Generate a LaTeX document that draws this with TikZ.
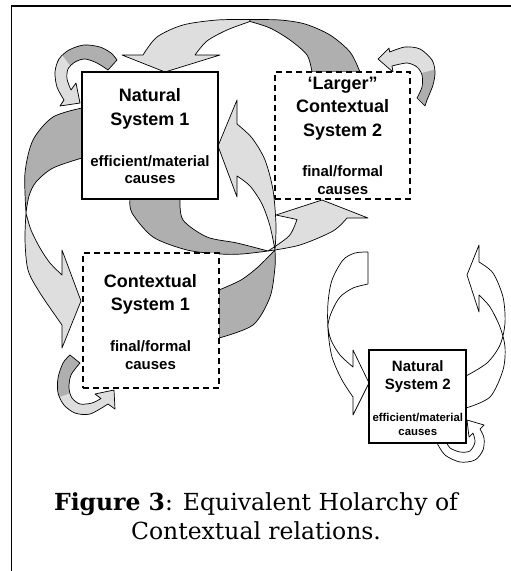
\documentclass[tikz,border=0pt]{standalone}
\usepackage{fontspec}
\newfontfamily\boxfont{Liberation Sans}
\newfontfamily\capfont{DejaVu Serif}
\definecolor{lightg}{RGB}{222,222,222}
\definecolor{darkg}{RGB}{175,175,175}
\tikzset{
  arrl/.style={fill=lightg, draw=black, line width=0.7pt, line join=round},
  arrd/.style={fill=darkg, draw=black, line width=0.7pt, line join=round},
  arrw/.style={fill=white, draw=black, line width=0.7pt, line join=round},
  outl/.style={draw=black, line width=0.7pt, line join=round},
  solidbox/.style={draw=black, line width=1.3pt, fill=white, inner sep=0pt},
  dashbox/.style={draw=black, line width=1.3pt, dash pattern=on 6pt off 4pt, fill=white, inner sep=0pt},
  headtxt/.style={font=\boxfont\bfseries\fontsize{18}{23.3}\selectfont, align=center, inner sep=0pt},
  subtxt/.style={font=\boxfont\bfseries\fontsize{15}{17.5}\selectfont, align=center, inner sep=0pt},
  headsm/.style={font=\boxfont\bfseries\fontsize{15}{18}\selectfont, align=center, inner sep=0pt},
  subsm/.style={font=\boxfont\bfseries\fontsize{11.4}{14}\selectfont, align=center, inner sep=0pt},
  captxt/.style={font=\capfont\fontsize{23.5}{29}\selectfont, align=center, inner sep=0pt}
}
\begin{document}
\begin{tikzpicture}[x=1pt,y=-1pt]
\useasboundingbox (0,0) rectangle (511,571);
% frame
\draw[line width=1.6pt] (11.5,571) -- (11.5,6) -- (511,6);

% ---- A: top arrow (Larger Contextual System 2 -> Natural System 1)
\filldraw[arrl] (143,55) -- plot[smooth] coordinates {(143,55) (157,37) (183,25) (217,20) (250,19.5)}
  -- plot[smooth] coordinates {(250,21.5) (227,30) (207,41) (195,55)}
  -- (220,55) -- (165,72) -- (122,55) -- cycle;
\filldraw[arrd] plot[smooth] coordinates {(250,19.5) (280,20) (305,24) (330,35) (350,52) (360,72)}
  -- (312,72) -- plot[smooth] coordinates {(312,72) (307,55) (290,40) (270,28) (250,21.5)} -- cycle;

% ---- B: small arrow at top right of Larger Contextual System 2
\def\pathB{(378,59) -- (389,48) -- (389.7,52) -- plot[smooth] coordinates {(389.7,52) (405,47) (420,49) (432,60) (435,72) (433,85) (427,100) (425,106)}
  -- (417,98) -- plot[smooth] coordinates {(417,98) (422,87) (422,75) (417,67) (407,63) (392,66)} -- (393,72) -- cycle}
\fill[darkg] \pathB;
\begin{scope}
\clip \pathB;
\fill[lightg] (370,40) -- (440,40) -- (440,68) -- (418,74) -- (395,80) -- (370,80) -- cycle;
\end{scope}
\draw[outl] \pathB;

% ---- C: small arrow at top left of Natural System 1
\def\pathC{(80,103) -- (60,106) -- (64,100) -- plot[smooth] coordinates {(64,100) (57,87) (55,72) (59,59) (69,50) (84,45) (100,47) (111,53) (117,60)}
  -- (108,70) -- plot[smooth] coordinates {(108,70) (97,63) (85,59) (75,62) (68,69) (67,79) (71,90)} -- (76,83) -- cycle}
\fill[darkg] \pathC;
\begin{scope}
\clip \pathC;
\fill[lightg] (52,42) -- (78,76) -- (100,125) -- (30,125) -- (30,42) -- cycle;
\end{scope}
\draw[outl] \pathC;

% ---- D: left big arrow (Natural System 1 -> Contextual System 1)
\filldraw[arrd] plot[smooth] coordinates {(82,108) (53,117) (33,140) (25,173) (26,213)}
  -- plot[smooth] coordinates {(26,213) (29,196) (36,182) (53,168) (82,158)} -- cycle;
\filldraw[arrl] plot[smooth] coordinates {(26,213) (25,240) (28,270) (40,293) (62,325)}
  -- (62,348) -- (81,301) -- (62,250) -- (62,275)
  -- plot[smooth] coordinates {(62,275) (50,263) (40,248) (31,230) (26,213)} -- cycle;

% ---- E: small arrow at bottom left of Contextual System 1
\def\pathE{(70,355) -- plot[smooth] coordinates {(70,355) (63,363) (58,378) (58,393) (64,405) (75,413) (90,414) (108,404)}
  -- (115,409) -- (114,390) -- (95,394) -- (101,398.5)
  -- plot[smooth] coordinates {(101,398.5) (92,403) (80,404) (72,398) (69,388) (71,375) (80,363)} -- cycle}
\fill[darkg] \pathE;
\begin{scope}
\clip \pathE;
\fill[lightg] (45,402) -- (80,390) -- (130,370) -- (130,430) -- (45,430) -- cycle;
\end{scope}
\draw[outl] \pathE;

% ---- F: Natural System 1 bottom -> Larger Contextual System 2 bottom
\filldraw[arrd] plot[smooth] coordinates {(130,199) (132,213) (153,237) (187,250) (220,254) (242,254) (268,251)}
  -- plot[smooth] coordinates {(268,251) (237,243) (207,237) (183,220) (180,199)} -- cycle;
\filldraw[arrl] plot[smooth] coordinates {(268,251) (300,245) (333,231) (347,218)}
  -- (368,218) -- (322,200) -- (276,215) -- (297,219.5)
  -- plot[smooth] coordinates {(297,219.5) (289,236) (268,251)} -- cycle;

% ---- G: Contextual System 1 right -> Natural System 1 right
\filldraw[arrd] plot[smooth] coordinates {(275,250) (275,267) (270,297) (253,325) (219,338)}
  -- (219,290) -- plot[smooth] coordinates {(219,290) (241,280) (258,267) (275,250)} -- cycle;
\filldraw[arrl] plot[smooth] coordinates {(275,250) (276,225) (273,190) (265,160) (252,138) (237,124)}
  -- (237,100) -- (218,146) -- (237,197) -- (237,176)
  -- plot[smooth] coordinates {(237,176) (250,186) (262,204) (270,226) (275,250)} -- cycle;

% ---- H: Natural System 2 left loop
\filldraw[arrw] (368,252) -- plot[smooth] coordinates {(368,252) (355,253) (343,260) (332,280) (328,303) (328,330) (332,357) (342,380) (353,397)}
  -- (353,415) -- (369,383) -- (353,350) -- (353,367)
  -- plot[smooth] coordinates {(353,367) (340,355) (331,340) (328,325) (332,311) (340,297) (353,288) (368,284)} -- cycle;

% ---- I: Natural System 2 right loop
\filldraw[arrw] (466,376) -- plot[smooth] coordinates {(466,376) (487,363) (500,345) (505,323) (503,297) (493,273) (479,262)}
  -- (479,245) -- (467,275) -- (479,312) -- (479,295)
  -- plot[smooth] coordinates {(479,295) (490,307) (500,327) (505,347) (503,370) (490,397) (466,408)} -- cycle;

% ---- J: Natural System 2 small bottom loop
\filldraw[arrw] (437,443) -- plot[smooth] coordinates {(437,443) (445,455) (460,462) (475,460) (483,450) (484,438) (480,429)}
  -- (484,425) -- (467,420) -- (469,437) -- (473,433)
  -- plot[smooth] coordinates {(473,433) (475,442) (470,451) (460,452) (450,448) (447,443)} -- cycle;

% ---- boxes
\node[solidbox, minimum width=136pt, minimum height=127pt] (ns1) at (150,135.5) {};
\node[dashbox, minimum width=135pt, minimum height=127pt] (cs2) at (342.5,135.5) {};
\node[dashbox, minimum width=136pt, minimum height=135pt] (cs1) at (151,320.5) {};
\node[solidbox, minimum width=97pt, minimum height=93pt] (ns2) at (417.5,396.5) {};

% ---- texts
\node[headtxt] (ns1h) at (150,108.7) {Natural\\System 1};
\node[subtxt] (ns1s) at (150,169.5) {efficient/material\\causes};
\node[headtxt] (cs2h) at (342.7,108.4) {‘Larger”\\Contextual\\System 2};
\node[subtxt] (cs2s) at (342.7,180) {final/formal\\causes};
\node[headtxt] (cs1h) at (150.5,294.5) {Contextual\\System 1};
\node[subtxt] (cs1s) at (150.5,355.3) {final/formal\\causes};
\node[headsm] (ns2h) at (417.8,376.2) {Natural\\System 2};
\node[subsm] (ns2s) at (417.8,424.5) {efficient/material\\causes};

% ---- caption
\node[captxt] (cap) at (256,516) {\textbf{Figure 3}: Equivalent Holarchy of\\Contextual relations.};
\end{tikzpicture}
\end{document}
